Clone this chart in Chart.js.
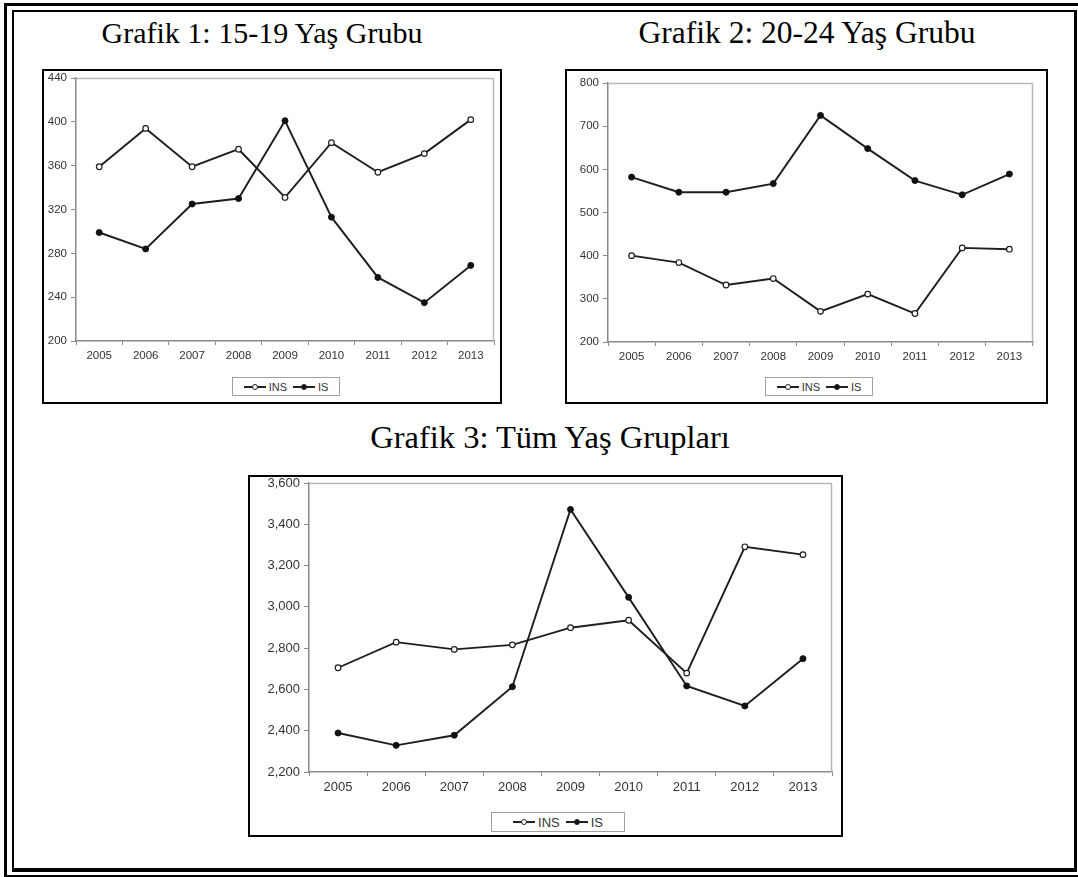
<!DOCTYPE html>
<html><head><meta charset="utf-8">
<script src="https://cdn.jsdelivr.net/npm/chart.js@4"></script>
<style>
html,body{margin:0;padding:0;background:#fff;}
body{width:1078px;height:877px;position:relative;overflow:hidden;}
.frameA{position:absolute;left:4px;top:3px;width:1090px;height:875px;border:3px solid #000;box-sizing:border-box;}
.frameB{position:absolute;left:12px;top:10px;width:1065px;height:862px;border-style:solid;border-color:#000;border-width:2px 3px 4px 2px;box-sizing:border-box;}
.title{position:absolute;width:460px;text-align:center;font-family:"Liberation Serif","Times New Roman",serif;color:#000;white-space:nowrap;}
.box{position:absolute;border:2px solid #000;box-sizing:border-box;background:#fff;}
.box canvas{position:absolute;left:0;top:0;}
.legend{position:absolute;border:1px solid #a0a0a0;box-sizing:border-box;display:flex;align-items:center;justify-content:center;font-family:"Liberation Sans",Arial,sans-serif;color:#333;background:#fff;}
.item{display:flex;align-items:center;margin:0 3px;}
.g{display:inline-block;position:relative;width:22px;height:10px;margin-right:3px;}
.ln{position:absolute;left:0;right:0;top:4px;height:2px;background:#222;}
.pt{position:absolute;left:8px;top:2px;width:4px;height:4px;border:1px solid #222;border-radius:50%;background:#fff;}
.pt.fill{background:#111;}
</style>
</head><body>
<div class="frameA"></div>
<div class="frameB"></div>

<div class="title" style="left:32px;top:18px;font-size:30px;line-height:30px;">Grafik 1: 15-19 Yaş Grubu</div>
<div class="title" style="left:577px;top:17px;font-size:31.5px;line-height:31px;">Grafik 2: 20-24 Yaş Grubu</div>
<div class="title" style="left:320px;top:421px;font-size:32.5px;line-height:32px;">Grafik 3: Tüm Yaş Grupları</div>

<div class="box" style="left:42px;top:69px;width:460px;height:335px;"><canvas id="c1" width="456" height="331"></canvas>
  <div class="legend" style="left:188px;top:306px;width:108px;height:19px;font-size:11px;">
    <span class="item"><span class="g"><span class="ln"></span><span class="pt"></span></span>INS</span>
    <span class="item"><span class="g"><span class="ln"></span><span class="pt fill"></span></span>IS</span>
  </div>
</div>
<div class="box" style="left:565px;top:69px;width:483px;height:335px;"><canvas id="c2" width="479" height="331"></canvas>
  <div class="legend" style="left:198px;top:306px;width:108px;height:19px;font-size:11px;">
    <span class="item"><span class="g"><span class="ln"></span><span class="pt"></span></span>INS</span>
    <span class="item"><span class="g"><span class="ln"></span><span class="pt fill"></span></span>IS</span>
  </div>
</div>
<div class="box" style="left:248px;top:475px;width:595px;height:362px;"><canvas id="c3" width="591" height="358"></canvas>
  <div class="legend" style="left:241px;top:335px;width:134px;height:20px;font-size:13px;">
    <span class="item"><span class="g"><span class="ln"></span><span class="pt"></span></span>INS</span>
    <span class="item"><span class="g"><span class="ln"></span><span class="pt fill"></span></span>IS</span>
  </div>
</div>

<script>
const categories = ['2005','2006','2007','2008','2009','2010','2011','2012','2013'];
const ins1 = [359, 394, 359, 375, 331, 381, 354, 371, 402];
const is1  = [299, 284, 325, 330, 401, 313, 258, 235, 269];
const ins2 = [400, 384, 332, 347, 271, 311, 266, 418, 415];
const is2  = [582, 547, 547, 567, 725, 648, 574, 541, 589];
const ins3 = [2705, 2829, 2794, 2816, 2899, 2935, 2679, 3291, 3253];
const is3  = [2389, 2329, 2378, 2613, 3472, 3046, 2617, 2520, 2749];
const yTicks1 = [200, 240, 280, 320, 360, 400, 440];
const yTicks2 = [200, 300, 400, 500, 600, 700, 800];
const yTicks3 = [2200, 2400, 2600, 2800, 3000, 3200, 3400, 3600];
const seriesNames = ['INS', 'IS'];

const framePlugin = {
  id: 'frame',
  beforeDatasetsDraw(chart) {
    const {ctx, chartArea: a} = chart;
    ctx.save();
    ctx.strokeStyle = '#b8b8b8';
    ctx.lineWidth = 1.5;
    ctx.beginPath();
    ctx.moveTo(a.left, a.top + 0.5);
    ctx.lineTo(a.right - 0.5, a.top + 0.5);
    ctx.lineTo(a.right - 0.5, a.bottom);
    ctx.stroke();
    ctx.restore();
  }
};

function makeChart(id, ins, is, yTicks, o) {
  const font = {family: '"Liberation Sans", Arial, sans-serif', size: o.fs};
  new Chart(document.getElementById(id), {
    type: 'line',
    data: {
      labels: categories,
      datasets: [
        {label: seriesNames[0], data: ins, borderColor: '#1e1e1e', borderWidth: 1.9,
         pointRadius: 2.8, pointBackgroundColor: '#ffffff', pointBorderColor: '#1e1e1e', pointBorderWidth: 1.2, tension: 0},
        {label: seriesNames[1], data: is, borderColor: '#1e1e1e', borderWidth: 1.9,
         pointRadius: 3, pointBackgroundColor: '#111111', pointBorderColor: '#111111', pointBorderWidth: 1, tension: 0}
      ]
    },
    options: {
      responsive: false, animation: false, devicePixelRatio: 1, events: [],
      layout: {padding: {left: 0, right: o.pr, top: o.pt, bottom: 0}},
      plugins: {legend: {display: false}, tooltip: {enabled: false}},
      scales: {
        x: {
          offset: true,
          grid: {offset: true, drawOnChartArea: false, drawTicks: true, tickLength: 4, color: '#8a8a8a', lineWidth: 1},
          border: {display: true, color: '#8a8a8a', width: 1.5},
          ticks: {color: '#333', font, padding: 4, maxRotation: 0, autoSkip: false},
          afterFit: s => { s.height = o.xh; s.paddingLeft = 0; s.paddingRight = 0; }
        },
        y: {
          min: yTicks[0], max: yTicks[yTicks.length - 1],
          afterBuildTicks: s => { s.ticks = yTicks.map(v => ({value: v})); },
          grid: {drawOnChartArea: false, drawTicks: true, tickLength: 5, color: '#8a8a8a'},
          border: {display: true, color: '#8a8a8a', width: 1.5},
          ticks: {color: '#333', font, padding: 4, callback: v => v.toLocaleString('en-US')},
          afterFit: s => { s.width = o.yw; s.paddingTop = 0; s.paddingBottom = 0; }
        }
      }
    },
    plugins: [framePlugin]
  });
}

makeChart('c1', ins1, is1, yTicks1, {fs: 11.5, yw: 32, xh: 61, pt: 7, pr: 6});
makeChart('c2', ins2, is2, yTicks2, {fs: 11.5, yw: 41, xh: 60, pt: 12, pr: 13});
makeChart('c3', ins3, is3, yTicks3, {fs: 13, yw: 59, xh: 63, pt: 6, pr: 9});
</script>
</body></html>
